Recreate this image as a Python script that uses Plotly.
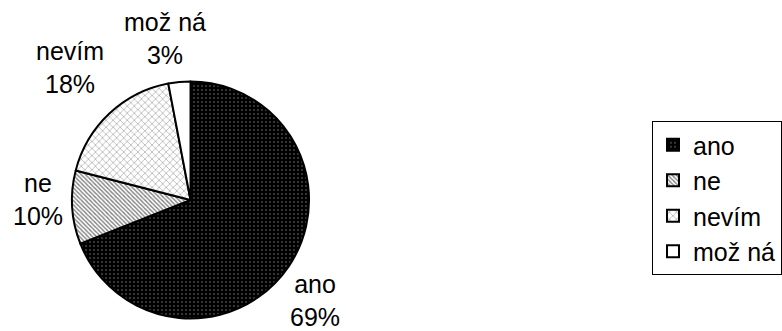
import plotly.graph_objects as go

# Survey answers and their shares (percent)
categories = ["ano", "ne", "nevím", "mož ná"]
shares = [69, 10, 18, 3]

# Fill patterns per slice
pattern_shapes = [".", "\\", "x", ""]
pattern_bg = ["black", "white", "white", "white"]
pattern_fg = ["white", "black", "#333333", "white"]
pattern_size = [4, 3, 5, 6]
pattern_solidity = [0.12, 0.45, 0.22, 0.1]

# Label anchor points (pixel centres of each two-line label)
label_xy = [(322, 300), (39, 199), (71, 68), (168, 38)]

W, H = 782, 331
FONT = "Liberation Sans, Arial, sans-serif"
cx, cy, r = 194.5, 200, 121

fig = go.Figure(
    go.Pie(
        labels=categories,
        values=shares,
        sort=False,
        direction="clockwise",
        rotation=0,
        textinfo="none",
        marker=dict(
            colors=pattern_bg,
            line=dict(color="black", width=2),
            pattern=dict(
                shape=pattern_shapes,
                bgcolor=pattern_bg,
                fgcolor=pattern_fg,
                size=pattern_size,
                solidity=pattern_solidity,
                fillmode="overlay",
            ),
        ),
        domain=dict(
            x=[(cx - r) / W, (cx + r) / W],
            y=[(H - cy - r) / H, (H - cy + r) / H],
        ),
        hoverinfo="label+percent",
    )
)

total = sum(shares)
for name, val, (lx, ly) in zip(categories, shares, label_xy):
    fig.add_annotation(
        x=lx / W,
        y=(H - ly) / H,
        xref="paper",
        yref="paper",
        xanchor="center",
        yanchor="middle",
        align="center",
        showarrow=False,
        text=f"{name}<br>{round(100 * val / total)}%",
        font=dict(family=FONT, size=25, color="black"),
    )

fig.update_layout(
    width=W,
    height=H,
    margin=dict(l=0, r=0, t=0, b=0),
    paper_bgcolor="white",
    plot_bgcolor="white",
    font=dict(family=FONT, size=25, color="black"),
    showlegend=True,
    legend=dict(
        x=666 / W,
        xanchor="left",
        y=(H - 121) / H,
        yanchor="top",
        bordercolor="black",
        borderwidth=1,
        bgcolor="white",
        font=dict(family=FONT, size=25, color="black"),
        itemsizing="constant",
    ),
)

fig.write_html("out.html")
